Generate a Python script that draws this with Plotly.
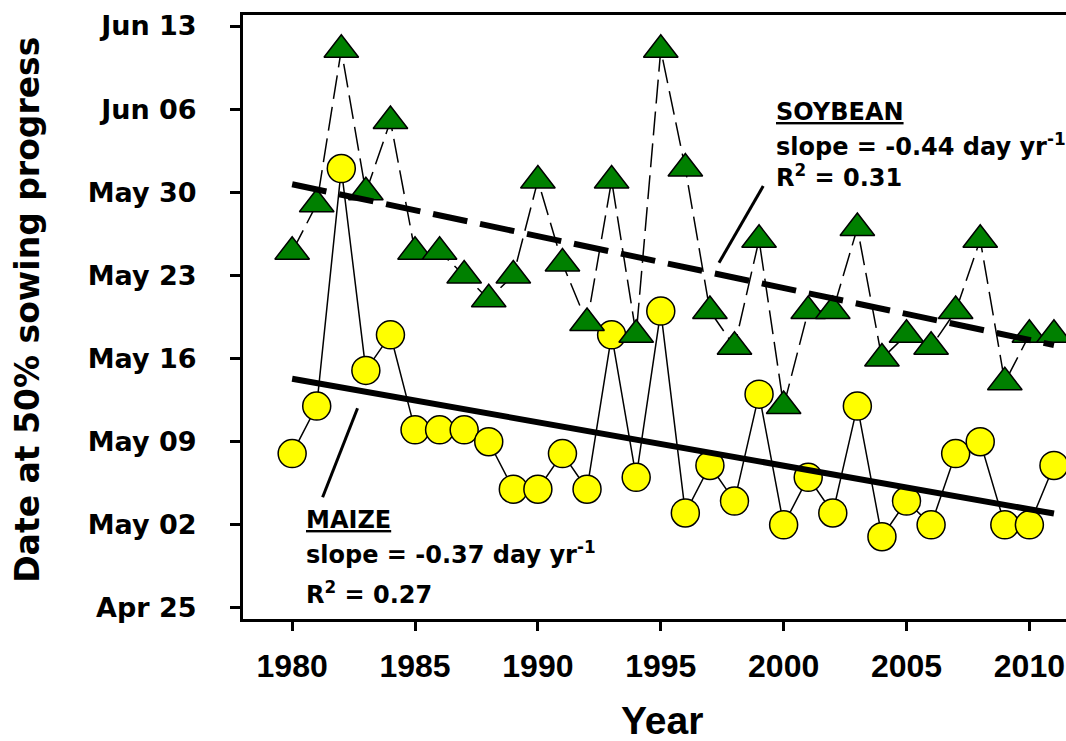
import numpy as np
import plotly.graph_objects as go
from datetime import datetime

# ---------------- data ----------------
years = list(range(1980, 2012))

maize_dates = ["May 08", "May 12", "Jun 01", "May 15", "May 18", "May 10", "May 10", "May 10",
               "May 09", "May 05", "May 05", "May 08", "May 05", "May 18", "May 06", "May 20",
               "May 03", "May 07", "May 04", "May 13", "May 02", "May 06", "May 03", "May 12",
               "May 01", "May 04", "May 02", "May 08", "May 09", "May 02", "May 02", "May 07"]

soybean_dates = ["May 25", "May 29", "Jun 11", "May 30", "Jun 05", "May 25", "May 25", "May 23",
                 "May 21", "May 23", "May 31", "May 24", "May 19", "May 31", "May 18", "Jun 11",
                 "Jun 01", "May 20", "May 17", "May 26", "May 12", "May 20", "May 20", "May 27",
                 "May 16", "May 18", "May 17", "May 20", "May 26", "May 14", "May 18", "May 18"]

ytick_labels = ["Apr 25", "May 02", "May 09", "May 16", "May 23", "May 30", "Jun 06", "Jun 13"]
xtick_years = [1980, 1985, 1990, 1995, 2000, 2005, 2010]

BASE = datetime(2001, 4, 25)


def to_day(s):
    return (datetime.strptime(s + " 2001", "%b %d %Y") - BASE).days


maize = np.array([to_day(d) for d in maize_dates], dtype=float)
soy = np.array([to_day(d) for d in soybean_dates], dtype=float)
ytick_vals = [to_day(s) for s in ytick_labels]
yr = np.array(years, dtype=float)

m_fit = np.polyfit(yr, maize, 1)
s_fit = np.polyfit(yr, soy, 1)
trend_x = np.array([years[0], years[-1]], dtype=float)

fig = go.Figure()

# connecting lines (behind markers)
fig.add_trace(go.Scatter(x=years, y=maize, mode="lines",
                         line=dict(color="black", width=1.5), showlegend=False))
fig.add_trace(go.Scatter(x=years, y=soy, mode="lines",
                         line=dict(color="black", width=1.5, dash="24px,8px"), showlegend=False))
# markers
fig.add_trace(go.Scatter(x=years, y=maize, mode="markers",
                         marker=dict(symbol="circle", size=28, color="#FFFF00",
                                     line=dict(color="black", width=1.5)), showlegend=False))
fig.add_trace(go.Scatter(x=years, y=soy, mode="markers",
                         marker=dict(symbol="triangle-up", size=30, color="#008000",
                                     line=dict(color="black", width=1.5)), showlegend=False))
# trend lines
fig.add_trace(go.Scatter(x=trend_x, y=np.polyval(m_fit, trend_x), mode="lines",
                         line=dict(color="black", width=6), showlegend=False))
fig.add_trace(go.Scatter(x=trend_x, y=np.polyval(s_fit, trend_x), mode="lines",
                         line=dict(color="black", width=6, dash="35px,13px"), showlegend=False))

# pointer lines
fig.add_shape(type="line", x0=1982.66, y0=16.81, x1=1981.24, y1=9.32,
              line=dict(color="black", width=3), xref="x", yref="y")
fig.add_shape(type="line", x0=1999.17, y0=35.53, x1=1997.37, y1=29.07,
              line=dict(color="black", width=3), xref="x", yref="y")

afont = dict(family="DejaVu Sans", size=24, color="black")


def note(x, y, text):
    fig.add_annotation(x=x, y=y, xref="x", yref="y", text=text, showarrow=False,
                       xanchor="left", yanchor="middle", font=afont, align="left")


note(1980.48, 7.4, "<b><u>MAIZE</u></b>")
note(1980.48, 4.6, "<b>slope = -0.37 day yr<sup>-1</sup></b>")
note(1980.48, 1.3, "<b>R<sup>2</sup> = 0.27</b>")
note(1999.60, 41.8, "<b><u>SOYBEAN</u></b>")
note(1999.60, 39.0, "<b>slope = -0.44 day yr<sup>-1</sup></b>")
note(1999.60, 36.4, "<b>R<sup>2</sup> = 0.31</b>")

# axis titles
fig.add_annotation(x=-0.2612, y=0.512, xref="paper", yref="paper",
                   text="<b>Date at 50% sowing progress</b>", textangle=-90, showarrow=False,
                   xanchor="center", yanchor="middle",
                   font=dict(family="DejaVu Sans", size=33, color="black"))
fig.add_annotation(x=0.509, y=-0.168, xref="paper", yref="paper",
                   text="<b>Year</b>", showarrow=False, xanchor="center", yanchor="middle",
                   font=dict(family="Liberation Sans", size=39, color="black"))

fig.update_xaxes(range=[1978, 2011.49], tickvals=xtick_years,
                 ticktext=["<b>%d</b>" % v for v in xtick_years],
                 tickfont=dict(family="Liberation Sans", size=32, color="black"),
                 ticks="outside", ticklen=9, tickwidth=2.5, tickcolor="black",
                 showline=True, linewidth=3, linecolor="black", mirror=True,
                 showgrid=False, zeroline=False, ticklabelstandoff=8, automargin=False)
fig.update_yaxes(range=[-0.93, 49.93], tickvals=ytick_vals,
                 ticktext=["<b>%s</b>" % s for s in ytick_labels],
                 tickfont=dict(family="DejaVu Sans", size=27, color="black"),
                 ticks="outside", ticklen=10, tickwidth=2.5, tickcolor="black",
                 showline=True, linewidth=3, linecolor="black", mirror=False,
                 showgrid=False, zeroline=False, ticklabelstandoff=28, automargin=False)

fig.update_layout(width=1066, height=741, margin=dict(l=243, r=0, t=15, b=122, autoexpand=False),
                  plot_bgcolor="white", paper_bgcolor="white", showlegend=False)

fig.write_html("out.html", config={"displayModeBar": False},
               post_script="document.body.style.margin='0px';document.body.style.padding='0px';"
                           "document.body.style.overflow='hidden';")
